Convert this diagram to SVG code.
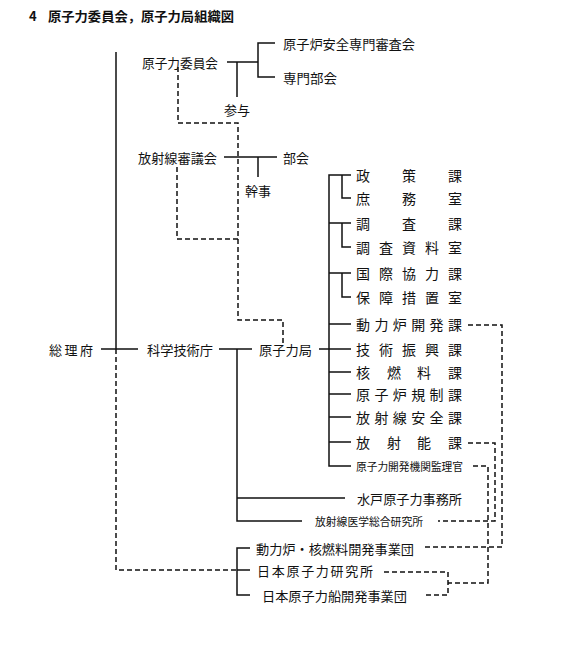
<svg xmlns="http://www.w3.org/2000/svg" width="574" height="647" viewBox="0 0 574 647">
<style>
text{font-family:"Noto Sans CJK JP","Noto Sans CJK SC",sans-serif;fill:#111;dominant-baseline:central}
.t{font-size:13px}
.s{font-size:14px}
.m{font-size:11px}
.title{font-size:13px;font-weight:bold}
.solid{fill:none;stroke:#111;stroke-width:1.5}
.dash{fill:none;stroke:#111;stroke-width:1.5;stroke-dasharray:5 3}
</style>
<rect width="574" height="647" fill="#fff"/>
<g id="title">
<text class="title" x="29" y="15">4</text>
<text class="title" x="48" y="15" textLength="186" lengthAdjust="spacingAndGlyphs">原子力委員会，原子力局組織図</text>
</g>
<g id="connectors">
<path class="solid" d="M116 52V349M101 349H138M219 349H252M237 349V521H302M237 498H345M319 349H351"/>
<path class="solid" d="M351 175H329V466H351M342 175V198H351M329 223H351M342 223V247H351M329 273H351M342 273V297H351M329 324H351M329 372H351M329 394H351M329 417H351M329 442H351"/>
<path class="solid" d="M227 62H258M275 43H258V77H275M237 62V97"/>
<path class="solid" d="M224 157H277M258 157V177"/>
<path class="solid" d="M250 548H237V595H250M237 570H250"/>
<path class="dash" d="M116 349V570H237"/>
<path class="dash" d="M178 67V123H238V320H283V343"/>
<path class="dash" d="M177 167V239H238"/>
<path class="dash" d="M468 325H502V547H422"/>
<path class="dash" d="M468 443H495V521H438"/>
<path class="dash" d="M473 466H488V583H448"/>
<path class="dash" d="M384 572H448V595H423"/>
</g>
<g id="n-genshiryoku-iinkai"><text class="t" x="142" y="62" textLength="76" lengthAdjust="spacingAndGlyphs">原子力委員会</text></g>
<g id="n-anzen-shinsa"><text class="t" x="283" y="43" textLength="132" lengthAdjust="spacingAndGlyphs">原子炉安全専門審査会</text></g>
<g id="n-senmon-bukai"><text class="t" x="283" y="77" textLength="54" lengthAdjust="spacingAndGlyphs">専門部会</text></g>
<g id="n-sanyo"><text class="t" x="237" y="109" text-anchor="middle">参与</text></g>
<g id="n-hoshasen-shingikai"><text class="t" x="138" y="157" textLength="79" lengthAdjust="spacingAndGlyphs">放射線審議会</text></g>
<g id="n-bukai"><text class="t" x="283" y="157" textLength="26" lengthAdjust="spacingAndGlyphs">部会</text></g>
<g id="n-kanji"><text class="t" x="258" y="190" text-anchor="middle">幹事</text></g>
<g id="n-sorifu"><text class="t" x="49" y="349" textLength="44" lengthAdjust="spacing">総理府</text></g>
<g id="n-kagaku-gijutsucho"><text class="t" x="147" y="349" textLength="66" lengthAdjust="spacingAndGlyphs">科学技術庁</text></g>
<g id="n-genshiryokukyoku"><text class="t" x="259" y="349" textLength="53" lengthAdjust="spacingAndGlyphs">原子力局</text></g>
<g id="n-seisaku"><text class="s" x="356 402 448" y="175">政策課</text></g>
<g id="n-shomu"><text class="s" x="356 402 448" y="198">庶務室</text></g>
<g id="n-chosa"><text class="s" x="356 402 448" y="223">調査課</text></g>
<g id="n-chosa-shiryo"><text class="s" x="356 379 402 425 448" y="247">調査資料室</text></g>
<g id="n-kokusai"><text class="s" x="356 379 402 425 448" y="273">国際協力課</text></g>
<g id="n-hosho"><text class="s" x="356 379 402 425 448" y="297">保障措置室</text></g>
<g id="n-doryokuro"><text class="s" x="356 374.4 392.8 411.2 429.6 448" y="324">動力炉開発課</text></g>
<g id="n-gijutsu-shinko"><text class="s" x="356 379 402 425 448" y="349">技術振興課</text></g>
<g id="n-kaku-nenryo"><text class="s" x="356 387 417 448" y="372">核燃料課</text></g>
<g id="n-genshiro-kisei"><text class="s" x="356 374.4 392.8 411.2 429.6 448" y="394">原子炉規制課</text></g>
<g id="n-hoshasen-anzen"><text class="s" x="356 374.4 392.8 411.2 429.6 448" y="417">放射線安全課</text></g>
<g id="n-hoshano"><text class="s" x="356 387 417 448" y="442">放射能課</text></g>
<g id="n-kanrikan"><text class="m" x="356" y="466" textLength="107" lengthAdjust="spacingAndGlyphs">原子力開発機関監理官</text></g>
<g id="n-mito"><text class="t" x="357" y="498" textLength="105" lengthAdjust="spacingAndGlyphs">水戸原子力事務所</text></g>
<g id="n-hoshasen-igaku"><text class="m" x="315" y="521" textLength="108" lengthAdjust="spacingAndGlyphs">放射線医学総合研究所</text></g>
<g id="n-doryokuro-jigyodan"><text class="t" x="256" y="548" textLength="158" lengthAdjust="spacingAndGlyphs">動力炉・核燃料開発事業団</text></g>
<g id="n-genken"><text class="t" x="257" y="570" textLength="116" lengthAdjust="spacing">日本原子力研究所</text></g>
<g id="n-genshiryokusen"><text class="t" x="262" y="595" textLength="145" lengthAdjust="spacingAndGlyphs">日本原子力船開発事業団</text></g>
</svg>
